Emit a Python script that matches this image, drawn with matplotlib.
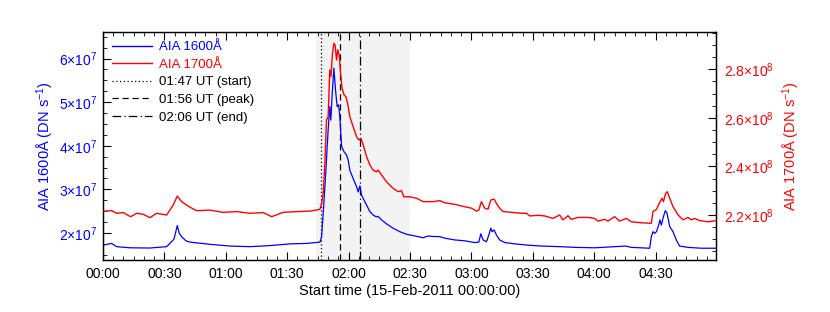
import matplotlib
matplotlib.use("Agg")
import matplotlib.pyplot as plt
from matplotlib.ticker import MultipleLocator, FuncFormatter
from matplotlib.lines import Line2D

plt.rcParams['font.family'] = ['Liberation Sans', 'DejaVu Sans']
plt.rcParams['mathtext.default'] = 'regular'

# ---- data (time in minutes after 00:00 UT, 15-Feb-2011) ----
t1600 = [0.5, 4.2, 6.7, 13.2, 22.9, 31.1, 33.5, 34.7, 36.3, 37.3, 38.4, 39.2, 40.5, 42.5,
         52.2, 62.0, 71.8, 81.5, 91.3, 99.5, 106.0, 106.8, 107.9, 108.9, 110.0, 110.8,
         111.3, 112.0, 112.8, 113.6, 114.4, 115.1, 115.7, 116.6, 117.8, 119.0, 119.8,
         120.6, 122.2, 123.9, 124.7, 125.5, 126.3, 127.9, 130.4, 132.0, 133.6, 134.4,
         136.1, 138.5, 141.7, 145.0, 148.3, 151.5, 156.4, 158.8, 161.3, 164.6, 167.0,
         171.9, 176.8, 181.6, 183.6, 184.6, 185.7, 187.4, 188.5, 189.5, 190.1, 191.1,
         192.2, 193.8, 196.3, 201.2, 207.7, 214.2, 223.1, 230.5, 240.2, 250.0, 255.4,
         258.1, 267.1, 267.9, 268.7, 269.5, 270.4, 271.5, 272.1, 272.8, 273.8, 274.7,
         275.5, 276.9, 278.5, 280.1, 281.7, 285.8, 292.3, 299.6]
aia1600_e7 = [1.725, 1.76, 1.686, 1.66, 1.655, 1.686, 1.80, 1.86, 2.17, 1.99, 1.915, 1.88, 1.82, 1.79,
              1.74, 1.70, 1.686, 1.71, 1.75, 1.76, 1.79, 1.915, 2.68, 3.445, 4.36, 4.90,
              4.59, 5.20, 5.78, 5.28, 4.90, 4.94, 4.67, 3.98, 3.86, 3.79, 3.67,
              3.44, 3.25, 3.06, 2.94, 3.08, 2.87, 2.72, 2.49, 2.41, 2.37, 2.38,
              2.30, 2.21, 2.11, 2.03, 1.97, 1.94, 1.89, 1.93, 1.92, 1.915, 1.88,
              1.84, 1.82, 1.78, 1.79, 1.98, 1.84, 1.80, 1.955, 2.11, 2.03, 2.07,
              1.955, 1.84, 1.78, 1.75, 1.72, 1.70, 1.686, 1.67, 1.66, 1.686, 1.70,
              1.67, 1.65, 1.915, 2.03, 1.99, 2.03, 2.18, 2.30, 2.18, 2.37, 2.51,
              2.465, 2.145, 2.03, 1.84, 1.70, 1.67, 1.65, 1.65]

t1700 = [0.5, 4.2, 6.7, 9.9, 13.5, 16.5, 19.7, 22.9, 26.2, 31.1, 34.3, 36.3, 38.4, 42.5,
         45.7, 52.2, 58.7, 65.3, 71.8, 78.3, 82.4, 88.0, 94.6, 101.1, 106.0, 106.8,
         107.6, 108.4, 109.2, 110.0, 110.8, 111.4, 112.1, 112.8, 113.4, 114.1, 114.7,
         115.4, 116.1, 116.8, 117.8, 118.7, 119.5, 120.6, 122.2, 123.9, 125.0, 126.0,
         127.1, 128.8, 130.4, 132.0, 133.6, 134.4, 136.1, 138.5, 141.7, 144.2, 145.8,
         147.0, 149.9, 153.2, 156.4, 161.3, 164.6, 167.0, 171.9, 176.8, 180.1, 182.5,
         183.6, 184.9, 186.5, 188.1, 189.5, 191.1, 192.2, 193.8, 195.5, 199.6, 204.4,
         206.9, 208.5, 212.5, 215.8, 219.9, 223.1, 224.7, 227.2, 228.8, 232.0, 236.9,
         240.2, 241.8, 245.1, 246.7, 250.0, 252.4, 255.7, 258.1, 263.0, 267.9, 268.7,
         270.4, 272.0, 273.1, 273.8, 274.9, 275.7, 276.9, 278.5, 281.0, 283.4, 285.8,
         287.5, 289.1, 291.5, 295.6, 299.6]
aia1700_e8 = [2.216, 2.218, 2.207, 2.21, 2.193, 2.207, 2.203, 2.189, 2.207, 2.20, 2.241, 2.278, 2.255, 2.232,
              2.218, 2.22, 2.211, 2.214, 2.207, 2.21, 2.193, 2.211, 2.214, 2.216, 2.223, 2.248,
              2.289, 2.413, 2.591, 2.605, 2.797, 2.77, 2.866, 2.907, 2.90, 2.838, 2.88,
              2.859, 2.784, 2.722, 2.694, 2.687, 2.66, 2.605, 2.564, 2.522, 2.509, 2.516,
              2.490, 2.44, 2.406, 2.385, 2.378, 2.385, 2.365, 2.337, 2.31, 2.296, 2.30,
              2.275, 2.275, 2.269, 2.255, 2.255, 2.259, 2.25, 2.244, 2.234, 2.228, 2.216,
              2.22, 2.255, 2.228, 2.224, 2.262, 2.265, 2.248, 2.228, 2.214, 2.211, 2.207,
              2.207, 2.196, 2.199, 2.196, 2.186, 2.20, 2.18, 2.197, 2.182, 2.19, 2.19,
              2.186, 2.175, 2.182, 2.175, 2.193, 2.175, 2.186, 2.172, 2.168, 2.166, 2.214,
              2.223, 2.252, 2.269, 2.255, 2.289, 2.296, 2.269, 2.234, 2.20, 2.18, 2.19,
              2.18, 2.186, 2.177, 2.172, 2.177]

event_times = [106.6, 115.9, 125.8]
event_labels = ['01:47 UT (start)', '01:56 UT (peak)', '02:06 UT (end)']
event_styles = [(0, (1, 2)), (0, (5, 3)), (0, (7, 2.5, 1, 2.5))]
shade_span = [103.9, 150.0]
xticks = [0, 30, 60, 90, 120, 150, 180, 210, 240, 270]
left_ticks_e7 = [2, 3, 4, 5, 6]
right_ticks_e8 = [2.2, 2.4, 2.6, 2.8]

BLUE = '#0000ff'
RED = '#ff0000'

fig = plt.figure(figsize=(8.30, 3.12), dpi=100)
ax = fig.add_axes([103/830, 1-260/312, (716-103)/830, (260-32)/312])
ax2 = ax.twinx()

ax.axvspan(shade_span[0], shade_span[1], color='#f3f3f3', zorder=0, lw=0)
ax.plot(t1600, [v*1e7 for v in aia1600_e7], color=BLUE, lw=0.9, zorder=3)
ax2.plot(t1700, [v*1e8 for v in aia1700_e8], color=RED, lw=1.0, zorder=3)
for tt, ls in zip(event_times, event_styles):
    ax.axvline(tt, color='black', lw=0.9, linestyle=ls, zorder=2)

ax.set_xlim(0, 299.5)
ax.set_ylim(1.38e7, 6.61e7)
ax2.set_ylim(2.0147e8, 2.9536e8)

ax.set_xticks(xticks)
ax.xaxis.set_major_formatter(FuncFormatter(lambda v, p: '%02d:%02d' % (int(v)//60, int(v) % 60)))
ax.xaxis.set_minor_locator(MultipleLocator(5))
ax.set_yticks([v*1e7 for v in left_ticks_e7])
ax.set_yticklabels([r'$%d×10^{7}$' % v for v in left_ticks_e7])
ax.yaxis.set_minor_locator(MultipleLocator(2.5e6))
ax2.set_yticks([v*1e8 for v in right_ticks_e8])
ax2.set_yticklabels([r'$%.1f×10^{8}$' % v for v in right_ticks_e8])
ax2.yaxis.set_minor_locator(MultipleLocator(5e6))

ax.tick_params(axis='x', which='both', direction='in', top=True, bottom=True,
               labelsize=10, colors='black', pad=5)
ax.tick_params(axis='x', which='major', length=6)
ax.tick_params(axis='x', which='minor', length=3)
ax.tick_params(axis='y', which='both', direction='in', left=True, right=False,
               labelsize=10, labelcolor=BLUE, color='black', pad=4)
ax.tick_params(axis='y', which='major', length=6)
ax.tick_params(axis='y', which='minor', length=3)
ax2.tick_params(axis='y', which='both', direction='in', right=True, left=False,
                labelsize=10, labelcolor=RED, color='black', pad=6)
ax2.tick_params(axis='y', which='major', length=6)
ax2.tick_params(axis='y', which='minor', length=3)
for a in (ax, ax2):
    for s in a.spines.values():
        s.set_linewidth(0.9)

ax.set_xlabel('Start time (15-Feb-2011 00:00:00)', fontsize=10.5, labelpad=2)
ax.set_ylabel('AIA 1600Å (DN s$^{-1}$)', fontsize=10.5, color=BLUE)
ax.yaxis.set_label_coords(-0.094, 0.5)
ax2.set_ylabel('AIA 1700Å (DN s$^{-1}$)', fontsize=10.5, color=RED, rotation=90)
ax2.yaxis.set_label_coords(1.123, 0.5)
ax.yaxis.label.set_verticalalignment('center')
ax2.yaxis.label.set_verticalalignment('center')

handles = [Line2D([], [], color=BLUE, lw=1.0),
           Line2D([], [], color=RED, lw=1.0)]
labels = ['AIA 1600Å', 'AIA 1700Å']
for ls, lab in zip(event_styles, event_labels):
    handles.append(Line2D([], [], color='black', lw=0.9, linestyle=ls))
    labels.append(lab)
leg = ax2.legend(handles, labels, loc='upper left', frameon=False, fontsize=9.5,
                 handlelength=3.0, handletextpad=0.55, labelspacing=0.4,
                 borderaxespad=0.5, borderpad=0.2)
for txt, c in zip(leg.get_texts(), [BLUE, RED, 'black', 'black', 'black']):
    txt.set_color(c)

fig.savefig('out.png', dpi=100)
